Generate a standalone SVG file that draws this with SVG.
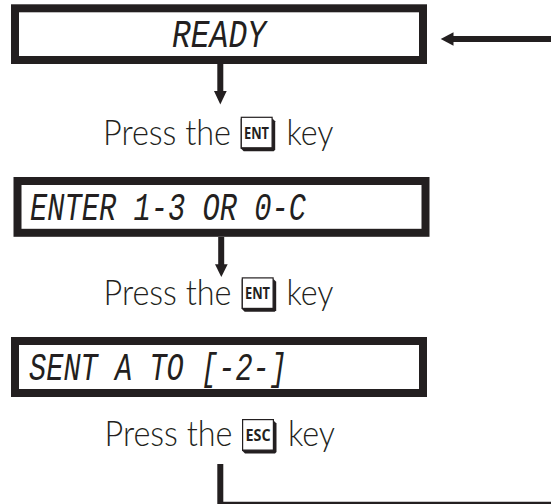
<svg xmlns="http://www.w3.org/2000/svg" width="551" height="504" viewBox="0 0 551 504">
<style>
.box{fill:#fff;stroke:#231f20;stroke-width:8}
.lcd{font-family:"Liberation Mono",monospace;font-style:italic;font-size:38px;fill:#231f20}
.lbl{font-family:"Lato","Open Sans",sans-serif;font-weight:300;font-size:34.500px;fill:#231f20}
.cap{font-family:"Open Sans","Liberation Sans",sans-serif;font-weight:700;font-size:16px;fill:#231f20;text-anchor:middle}
.key{fill:#fff;stroke:#231f20;stroke-width:1.2}
.keyb{fill:#231f20}
.ln{fill:none;stroke:#231f20}
.hd{fill:#231f20}
</style>
<defs>
<g id="keycap">
<path class="keyb" d="M0 2H32L34.500 4.500V33L33 34.500H3L0 31.500Z"/>
<rect class="key" x="0.600" y="0.600" width="30.800" height="30.500"/>
</g>
</defs>
<g id="connectors">
<path class="ln" stroke-width="6" d="M220.300 64V92"/>
<path class="hd" d="M214 91H226.700L220.300 104.500Z"/>
<path class="ln" stroke-width="6" d="M452 39H551"/>
<path class="hd" d="M453.500 32.300V45.700L440.700 39Z"/>
<path class="ln" stroke-width="6" d="M221.200 237V265"/>
<path class="hd" d="M215 264.300H227.700L221.300 277Z"/>
<path class="ln" stroke-width="6" d="M220.300 464V504"/>
<path class="ln" stroke-width="2.500" d="M220 503H551"/>
</g>
<g id="node-ready">
<rect class="box" x="15" y="8.300" width="408" height="51.700"/>
<text class="lcd" x="172" y="47" textLength="94" lengthAdjust="spacingAndGlyphs">READY</text>
</g>
<g id="step-ent-1">
<text class="lbl" x="103" y="144.500" textLength="128" lengthAdjust="spacingAndGlyphs">Press the</text>
<use href="#keycap" x="240.700" y="116.700"/>
<text class="cap" x="256.500" y="138.500" textLength="25" lengthAdjust="spacingAndGlyphs">ENT</text>
<text class="lbl" x="286.500" y="144.500" textLength="47" lengthAdjust="spacingAndGlyphs">key</text>
</g>
<g id="node-enter">
<rect class="box" x="17.500" y="181" width="408" height="51.800"/>
<text class="lcd" x="30" y="220" textLength="276" lengthAdjust="spacingAndGlyphs">ENTER 1-3 OR 0-C</text>
</g>
<g id="step-ent-2">
<text class="lbl" x="103.500" y="305" textLength="128" lengthAdjust="spacingAndGlyphs">Press the</text>
<use href="#keycap" x="241.700" y="277.300"/>
<text class="cap" x="257.500" y="299" textLength="25" lengthAdjust="spacingAndGlyphs">ENT</text>
<text class="lbl" x="286.500" y="305" textLength="47" lengthAdjust="spacingAndGlyphs">key</text>
</g>
<g id="node-sent">
<rect class="box" x="15" y="341" width="408" height="52"/>
<text class="lcd" x="29" y="379.500" textLength="258" lengthAdjust="spacingAndGlyphs">SENT A TO [-2-]</text>
</g>
<g id="step-esc">
<text class="lbl" x="104.500" y="446" textLength="128" lengthAdjust="spacingAndGlyphs">Press the</text>
<use href="#keycap" x="242" y="419"/>
<text class="cap" x="258" y="441" textLength="25" lengthAdjust="spacingAndGlyphs">ESC</text>
<text class="lbl" x="288" y="446" textLength="47" lengthAdjust="spacingAndGlyphs">key</text>
</g>
</svg>
